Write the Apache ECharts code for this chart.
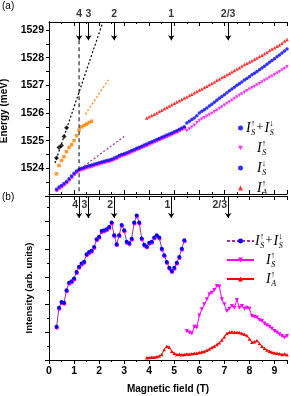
<!DOCTYPE html>
<html><head><meta charset="utf-8">
<script src="https://cdn.jsdelivr.net/npm/echarts@6/dist/echarts.min.js"></script>
<style>html,body{margin:0;padding:0;background:#fff}#c{width:291px;height:396px}</style>
</head><body><div id="c"></div>
<script>
// ---------- data ----------
const sumField = [0.3,0.4,0.5,0.6,0.7,0.8,0.9,1.0,1.1,1.2,1.3,1.4,1.5,1.6,1.7,1.8,1.9,2.0,2.1,2.2,2.3,2.4,2.5,2.6,2.7,2.8,2.9,3.0,3.1,3.2,3.3,3.4,3.5,3.6,3.7,3.8,3.9,4.0,4.1,4.2,4.3,4.4,4.5,4.6,4.7,4.8,4.9,5.0,5.1,5.2,5.3,5.4];
const sumEnergy = [1523.24,1523.32,1523.38,1523.45,1523.52,1523.62,1523.72,1523.82,1523.9,1523.96,1524.0,1524.03,1524.06,1524.09,1524.12,1524.15,1524.17,1524.2,1524.23,1524.25,1524.28,1524.3,1524.33,1524.37,1524.41,1524.46,1524.5,1524.53,1524.56,1524.6,1524.64,1524.68,1524.72,1524.76,1524.8,1524.84,1524.88,1524.92,1524.96,1525.0,1525.04,1525.08,1525.12,1525.16,1525.2,1525.24,1525.28,1525.32,1525.36,1525.41,1525.46,1525.5];
const sumIntensity = [1.2,1.89,2.09,2.07,2.52,2.79,2.84,2.94,3.18,3.37,3.48,3.55,3.82,3.9,3.94,4.08,4.36,4.45,4.66,4.68,4.72,4.8,4.96,4.5,4.18,4.5,4.87,4.68,4.27,4.21,4.38,4.96,5.22,4.96,4.39,4.16,4.1,4.23,4.27,4.42,4.5,4.42,4.02,3.78,3.54,3.33,3.21,3.33,3.51,3.72,4.02,4.32];

const splitField = [5.5,5.6,5.7,5.8,5.9,6.0,6.1,6.2,6.3,6.4,6.5,6.6,6.7,6.8,6.9,7.0,7.1,7.2,7.3,7.4,7.5,7.6,7.7,7.8,7.9,8.0,8.1,8.2,8.3,8.4,8.5,8.6,8.7,8.8,8.9,9.0,9.1,9.2,9.3,9.4,9.5];
const sDownEnergy = [1525.64,1525.7,1525.76,1525.82,1525.9,1526.0,1526.06,1526.12,1526.18,1526.25,1526.32,1526.39,1526.46,1526.53,1526.6,1526.66,1526.73,1526.8,1526.87,1526.93,1527.0,1527.06,1527.12,1527.19,1527.25,1527.31,1527.38,1527.44,1527.5,1527.56,1527.63,1527.69,1527.76,1527.83,1527.9,1527.96,1528.03,1528.1,1528.17,1528.24,1528.31];
const sUpEnergy = [1525.36,1525.42,1525.48,1525.56,1525.65,1525.72,1525.78,1525.83,1525.88,1525.93,1525.98,1526.04,1526.1,1526.16,1526.22,1526.28,1526.34,1526.4,1526.46,1526.52,1526.58,1526.64,1526.69,1526.75,1526.8,1526.86,1526.91,1526.96,1527.01,1527.06,1527.12,1527.17,1527.22,1527.28,1527.33,1527.38,1527.44,1527.49,1527.55,1527.61,1527.67];
const sUpIntensity = [1.05,0.99,0.96,1.2,1.17,1.61,1.83,2.01,2.19,2.37,2.43,2.53,2.67,2.65,2.19,2.01,1.77,1.85,1.95,1.89,2.17,1.89,1.95,1.85,1.89,1.85,1.59,1.56,1.53,1.44,1.41,1.32,1.25,1.2,1.13,1.05,0.99,0.93,0.87,0.81,0.87];

const aField = [3.9,4.0,4.1,4.2,4.3,4.4,4.5,4.6,4.7,4.8,4.9,5.0,5.1,5.2,5.3,5.4,5.5,5.6,5.7,5.8,5.9,6.0,6.1,6.2,6.3,6.4,6.5,6.6,6.7,6.8,6.9,7.0,7.1,7.2,7.3,7.4,7.5,7.6,7.7,7.8,7.9,8.0,8.1,8.2,8.3,8.4,8.5,8.6,8.7,8.8,8.9,9.0,9.1,9.2,9.3,9.4,9.5];
const aUpEnergy = [1525.82,1525.86,1525.91,1525.95,1526.0,1526.05,1526.1,1526.15,1526.2,1526.25,1526.3,1526.35,1526.4,1526.44,1526.49,1526.54,1526.58,1526.63,1526.68,1526.73,1526.78,1526.83,1526.87,1526.92,1526.97,1527.02,1527.07,1527.12,1527.18,1527.23,1527.28,1527.33,1527.38,1527.43,1527.48,1527.54,1527.59,1527.64,1527.7,1527.75,1527.8,1527.84,1527.89,1527.94,1527.99,1528.04,1528.09,1528.14,1528.2,1528.26,1528.31,1528.36,1528.41,1528.46,1528.52,1528.6,1528.66];
const aUpIntensity = [0.08,0.09,0.1,0.1,0.12,0.14,0.2,0.38,0.5,0.46,0.32,0.24,0.2,0.21,0.19,0.2,0.22,0.21,0.23,0.24,0.24,0.27,0.29,0.31,0.35,0.4,0.45,0.5,0.56,0.62,0.72,0.84,0.96,1.0,1.01,1.0,1.0,0.99,0.96,0.93,0.88,0.76,0.64,0.66,0.7,0.6,0.5,0.42,0.36,0.32,0.28,0.25,0.24,0.23,0.2,0.22,0.19];

const blackField = [0.3,0.4,0.5,0.6,0.7];
const blackEnergy = [1524.37,1524.75,1524.82,1525.15,1525.47];
const orangeField = [0.3,0.4,0.5,0.6,0.7,0.8,0.9,1.0,1.1,1.2,1.3,1.4,1.5,1.6,1.7];
const orangeEnergy = [1523.8,1524.1,1524.28,1524.42,1524.6,1524.75,1524.85,1525.0,1525.18,1525.38,1525.5,1525.55,1525.6,1525.65,1525.7];

const blackFit = [[0.24,1524.19],[2.15,1529.29]];
const orangeFit = [[1.45,1525.95],[2.37,1527.2]];
const purpleFit = [[1.4,1524.08],[3.0,1525.15]];
const fillingLine = [[1.2,1528.63],[1.2,1523.07]];

const arrowField = [1.2,1.57,2.6,4.88,7.15];
const arrowLabel = ['4','3','2','1','2/3'];
const energyTicks = [1524,1525,1526,1527,1528,1529];
const energyMinor = [1523.5,1524,1524.5,1525,1525.5,1526,1526.5,1527,1527.5,1528,1528.5,1529];

// ---------- helpers ----------
const zip = (a,b) => a.map((v,i)=>[v,b[i]]);
const E_MIN = 1523.07, E_MAX = 1529.29, I_MAX = 5.92;
const SANS = 'Liberation Sans';
const BLUE = '#0000ff', MAG = '#ff00ff', RED = '#ff0000', ORANGE = '#ff8000', PURPLE = '#993399';
const DOWN_TRI = 'path://M0,0L10,0L5,9Z';

const chart = echarts.init(document.getElementById('c'), null, {renderer:'canvas'});

function xAx(grid, pos, showLabel, inside) {
  return {
    type:'value', gridIndex:grid, position:pos, min:0, max:9.5, interval:1,
    axisLine:{show:true, onZero:false, lineStyle:{color:'#000', width:1}},
    axisTick:{show:true, inside:inside, length:4, lineStyle:{color:'#000'}},
    minorTick:{show:true, splitNumber:2, length:2, lineStyle:{color:'#000'}},
    splitLine:{show:false},
    axisLabel:{show:showLabel, showMaxLabel:false, margin:6, color:'#000', fontFamily:SANS, fontWeight:'bold', fontSize:10.5},
    name: showLabel ? 'Magnetic field (T)' : '', nameLocation:'middle', nameGap:24,
    nameTextStyle:{color:'#000', fontFamily:SANS, fontWeight:'bold', fontSize:10}
  };
}

const richText = {
  i:{fontFamily:'Liberation Serif', fontStyle:'italic', fontSize:14, lineHeight:18, color:'#000'},
  up:{fontFamily:'Liberation Serif', fontSize:9, lineHeight:9, verticalAlign:'top', color:'#000'},
  sub:{fontFamily:'Liberation Serif', fontStyle:'italic', fontSize:8, lineHeight:8, verticalAlign:'bottom', color:'#000', padding:[0,0,0,-4]},
  op:{fontFamily:'Liberation Serif', fontSize:13, color:'#000', padding:[0,1,0,1]},
  p:{width:11}
};
const legendText = {
  sumT:'{i|I}{up|↑}{sub|S}{op|+}{i|I}{up|↓}{sub|S}',
  upT:'{p|}{i|I}{up|↑}{sub|S}',
  downT:'{p|}{i|I}{up|↓}{sub|S}',
  aT:'{p|}{i|I}{up|↑}{sub|A}',
  sumB:'{i|I}{up|↑}{sub|S}{op|+}{i|I}{up|↓}{sub|S}',
  upB:'{p|}{i|I}{up|↑}{sub|S}',
  aB:'{p|}{i|I}{up|↑}{sub|A}'
};

const arrowMark = (ytop, ybot) => ({
  silent:true, symbol:['none','arrow'], symbolSize:5, animation:false,
  label:{show:false}, lineStyle:{color:'#000', type:'solid', width:1},
  data: arrowField.map(x => [{coord:[x, ytop]}, {coord:[x, ybot]}])
});

const option = {
  animation:false,
  title:[
    {text:'(a)', left:2, top:1, padding:0, textStyle:{fontSize:10, fontWeight:'normal', fontFamily:SANS, color:'#000'}},
    {text:'(b)', left:2, top:192, padding:0, textStyle:{fontSize:10, fontWeight:'normal', fontFamily:SANS, color:'#000'}}
  ],
  grid:[
    {left:49, top:22, width:238, height:172, containLabel:false, outerBoundsMode:'none'},
    {left:49, top:196, width:238, height:164, containLabel:false, outerBoundsMode:'none'}
  ],
  legend:[
    {data:['sumT',{name:'upT', icon:DOWN_TRI},'downT','aT'], orient:'vertical', left:233, top:114, itemWidth:5, itemHeight:5, itemGap:2,
     selectedMode:false, formatter:n=>legendText[n], textStyle:{rich:richText, padding:[0,0,0,-2]}},
    {data:[{name:'sumB', lineStyle:{type:[3,2]}},'upB','aB'], orient:'vertical', left:221, top:227, itemWidth:27, itemHeight:6, itemGap:1,
     selectedMode:false, formatter:n=>legendText[n], textStyle:{rich:richText, padding:[0,0,0,-4]}}
  ],
  xAxis:[ xAx(0,'bottom',false,true), xAx(0,'top',false,true), xAx(1,'bottom',true,false), xAx(1,'top',false,true) ],
  yAxis:[
    {type:'value', gridIndex:0, position:'left', min:E_MIN, max:E_MAX,
     axisLine:{show:true, lineStyle:{color:'#000'}},
     axisTick:{show:true, inside:false, length:3, customValues:energyMinor, lineStyle:{color:'#000'}},
     splitLine:{show:false},
     axisLabel:{show:true, customValues:energyTicks, formatter:v=>String(Math.round(v)), margin:5, color:'#000', fontFamily:SANS, fontWeight:'bold', fontSize:10.5},
     name:'Energy (meV)', nameLocation:'middle', nameGap:33,
     nameTextStyle:{color:'#000', fontFamily:SANS, fontWeight:'bold', fontSize:10, padding:[0,6,0,0]}},
    {type:'value', gridIndex:0, position:'right', min:E_MIN, max:E_MAX,
     axisLine:{show:true, lineStyle:{color:'#000'}},
     axisTick:{show:true, inside:true, length:3, customValues:energyMinor, lineStyle:{color:'#000'}},
     splitLine:{show:false}, axisLabel:{show:false}},
    {type:'value', gridIndex:1, position:'left', min:0, max:I_MAX, interval:1,
     axisLine:{show:true, lineStyle:{color:'#000'}},
     axisTick:{show:true, inside:false, length:4, lineStyle:{color:'#000'}},
     minorTick:{show:true, splitNumber:2, length:2, lineStyle:{color:'#000'}},
     splitLine:{show:false}, axisLabel:{show:false},
     name:'Intensity (arb. units)', nameLocation:'middle', nameGap:15,
     nameTextStyle:{color:'#000', fontFamily:SANS, fontWeight:'bold', fontSize:9.5, padding:[0,20,0,0]}},
    {type:'value', gridIndex:1, position:'right', min:0, max:I_MAX, interval:1,
     axisLine:{show:true, lineStyle:{color:'#000'}},
     axisTick:{show:true, inside:true, length:3, lineStyle:{color:'#000'}},
     minorTick:{show:false},
     splitLine:{show:false}, axisLabel:{show:false}}
  ],
  series:[
    // ---- panel (a) ----
    {type:'line', xAxisIndex:0, yAxisIndex:0, data:fillingLine, symbol:'none', silent:true,
     lineStyle:{color:'#000', width:1, type:[4,3]}, markLine:arrowMark(E_MAX, 1528.63)},
    {type:'line', xAxisIndex:0, yAxisIndex:0, data:blackFit, symbol:'none', silent:true, lineStyle:{color:'#000', width:1.2, type:[2,2]}},
    {type:'line', xAxisIndex:0, yAxisIndex:0, data:orangeFit, symbol:'none', silent:true, lineStyle:{color:ORANGE, width:1.2, type:[2,2]}},
    {type:'line', xAxisIndex:0, yAxisIndex:0, data:purpleFit, symbol:'none', silent:true, lineStyle:{color:PURPLE, width:1.2, type:[2,2]}},
    {type:'scatter', xAxisIndex:0, yAxisIndex:0, data:zip(blackField, blackEnergy), symbol:'diamond', symbolSize:5, itemStyle:{color:'#000'}},
    {type:'scatter', xAxisIndex:0, yAxisIndex:0, data:zip(orangeField, orangeEnergy), symbol:'rect', symbolSize:3.5, itemStyle:{color:ORANGE}},
    {name:'upT', type:'scatter', xAxisIndex:0, yAxisIndex:0, data:zip(splitField, sUpEnergy), symbol:'triangle', symbolRotate:180, symbolSize:3.5, itemStyle:{color:MAG}},
    {name:'downT', type:'scatter', xAxisIndex:0, yAxisIndex:0, data:zip(splitField, sDownEnergy), symbol:'circle', symbolSize:3.5, itemStyle:{color:BLUE}},
    {name:'aT', type:'scatter', xAxisIndex:0, yAxisIndex:0, data:zip(aField, aUpEnergy), symbol:'triangle', symbolSize:3.5, itemStyle:{color:RED}},
    {name:'sumT', type:'scatter', xAxisIndex:0, yAxisIndex:0, data:zip(sumField, sumEnergy), symbol:'circle', symbolSize:3.5,
     itemStyle:{color:BLUE, shadowColor:MAG, shadowOffsetY:1.2, shadowOffsetX:0.4, shadowBlur:0}},
    {type:'scatter', xAxisIndex:0, yAxisIndex:0, data:arrowField.map(x=>[x,E_MAX]), symbolSize:0, silent:true,
     label:{show:true, position:'top', distance:2, formatter:p=>arrowLabel[p.dataIndex], color:'#000', fontFamily:SANS, fontWeight:'bold', fontSize:10.5}},
    // ---- panel (b) ----
    {type:'line', xAxisIndex:2, yAxisIndex:2, data:[], markLine:arrowMark(I_MAX, 5.13)},
    {type:'scatter', xAxisIndex:2, yAxisIndex:2, data:arrowField.map(x=>[x,5.6]), symbolSize:0, silent:true,
     label:{show:true, position:'left', distance:1, formatter:p=>arrowLabel[p.dataIndex], color:'#000', fontFamily:SANS, fontWeight:'bold', fontSize:10.5}},
    {name:'aB', type:'line', xAxisIndex:2, yAxisIndex:2, data:zip(aField, aUpIntensity), symbol:'triangle', symbolSize:3.5,
     lineStyle:{color:RED, width:1}, itemStyle:{color:RED}},
    {name:'upB', type:'line', xAxisIndex:2, yAxisIndex:2, data:zip(splitField, sUpIntensity), symbol:'triangle', symbolRotate:180, symbolSize:4,
     lineStyle:{color:MAG, width:1}, itemStyle:{color:MAG}},
    {name:'sumB', type:'line', xAxisIndex:2, yAxisIndex:2, data:zip(sumField, sumIntensity), symbol:'circle', symbolSize:4,
     lineStyle:{color:PURPLE, width:1}, itemStyle:{color:BLUE, shadowColor:MAG, shadowOffsetY:1, shadowOffsetX:0.3, shadowBlur:0}}
  ]
};
chart.setOption(option);
</script>
</body></html>
